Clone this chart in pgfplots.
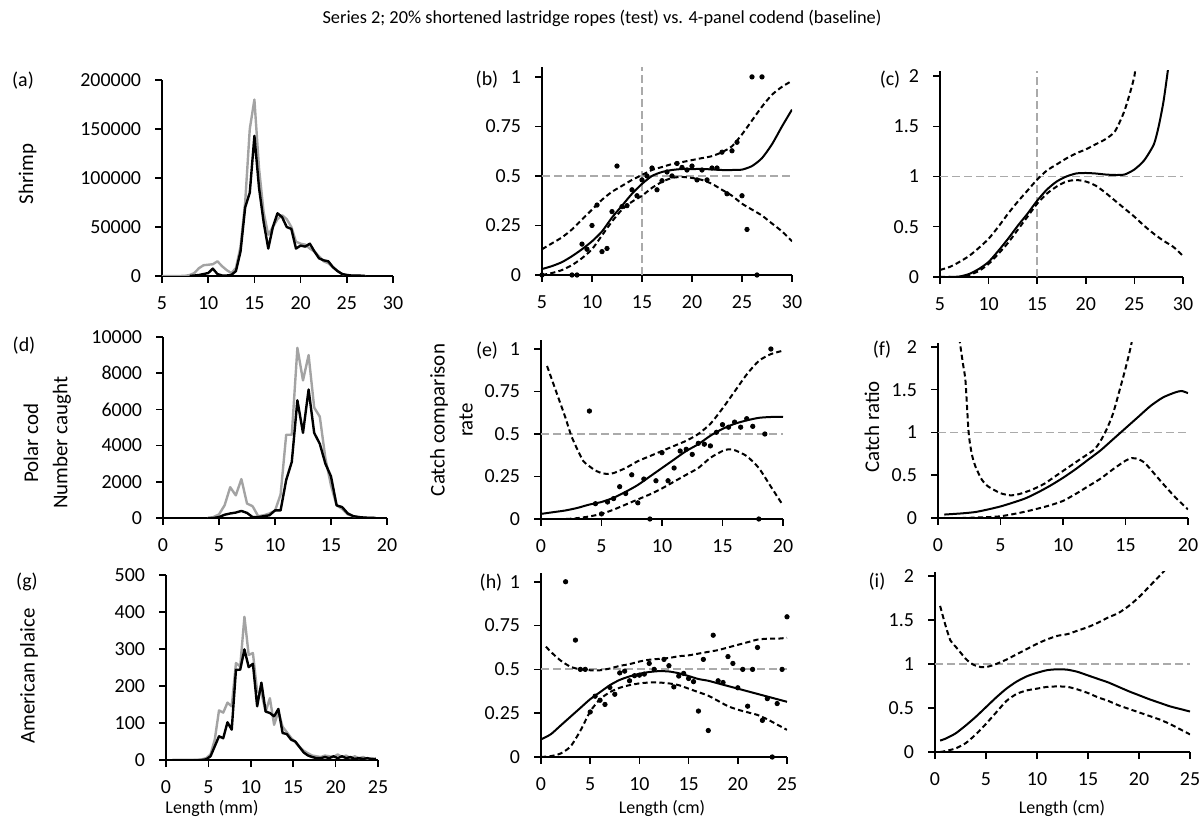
\documentclass[border=0pt]{standalone}
\usepackage{fontspec}
\setmainfont{Carlito}
\usepackage{pgfplots}
\pgfplotsset{compat=1.18}
\definecolor{gline}{RGB}{163,163,163}
\definecolor{gref}{RGB}{170,170,170}
\newcommand\tk{\fontsize{10}{12}\selectfont}
\newcommand\lb{\fontsize{10.5}{14}\selectfont}

\pgfplotsset{
  panel/.style={
    scale only axis, anchor=south west,
    axis x line*=bottom, axis y line*=left,
    axis line style={black, line width=0.75bp, -},
    every tick/.style={black, line width=0.75bp},
    tick align=outside, major tick length=3.5bp,
    ticklabel style={font=\tk},
    yticklabel style={xshift=-3.5bp},
    xticklabel style={yshift=-3.5bp},
    /pgf/number format/fixed,
    /pgf/number format/assume math mode=true,
    /pgf/number format/1000 sep={},
    scaled ticks=false,
  },
  fit/.style={black, line width=1bp, smooth, tension=0.4},
  ci/.style={fit, dash pattern=on 2.6bp off 1.6bp},
  ref/.style={gref, line width=0.9bp, dash pattern=on 4bp off 2bp},
  pts/.style={only marks, mark=*, mark size=1.1bp, black},
  hist/.style={line width=1.2bp, line join=round},
}

\begin{document}
\begin{tikzpicture}
\path[use as bounding box] (0,0) rectangle (602bp,418bp);

% ---------- row 1: shrimp ----------
\begin{axis}[panel, at={(81bp,280bp)}, width=115.5bp, height=98bp,
  xmin=5, xmax=30, ymin=0, ymax=200000,
  xtick={5,10,...,30}, ytick={0,50000,...,200000}]
\addplot[hist, gline] coordinates {
 (5,0) (5.5,0) (6,0) (6.5,0) (7,0) (7.5,200) (8,1000) (8.5,3000) (9,8000) (9.5,11000)
 (10,11500) (10.5,12000) (11,15000) (11.5,10000) (12,6000) (12.5,3000) (13,8000)
 (13.5,30000) (14,75000) (14.5,150000) (15,180000) (15.5,110000) (16,65000) (16.5,42000)
 (17,50000) (17.5,58000) (18,62000) (18.5,58000) (19,50000) (19.5,35000) (20,33000)
 (20.5,32000) (21,28000) (21.5,25000) (22,20000) (22.5,15000) (23,13000) (23.5,9000)
 (24,5000) (24.5,2000) (25,1000) (25.5,500) (26,500) (26.5,300) (27,0)};
\addplot[hist, black] coordinates {
 (8,0) (8.5,500) (9,1000) (9.5,2000) (10,3000) (10.5,7500) (11,2000) (11.5,500) (12,500)
 (12.5,1000) (13,5000) (13.5,25000) (14,70000) (14.5,85000) (15,143000) (15.5,90000)
 (16,55000) (16.5,28000) (17,50000) (17.5,64000) (18,60000) (18.5,50000) (19,48000)
 (19.5,28000) (20,31000) (20.5,30000) (21,33000) (21.5,25000) (22,18000) (22.5,16000)
 (23,15000) (23.5,9000) (24,5000) (24.5,2000) (25,1000) (25.5,500) (26,500) (26.5,300) (27,0)};
\end{axis}

\begin{axis}[panel, at={(271bp,280.5bp)}, width=125bp, height=104bp,
  xmin=5, xmax=30, ymin=0, ymax=1.05,
  xtick={5,10,...,30}, ytick={0,0.25,0.5,0.75,1}]
\addplot[ref] coordinates {(5,0.5) (30,0.5)};
\addplot[ref] coordinates {(15,0) (15,1.05)};
\addplot[fit] coordinates {
 (5,0.03) (6,0.045) (7,0.065) (8,0.095) (9,0.13) (10,0.17) (11,0.22) (12,0.29) (13,0.35)
 (14,0.41) (15,0.46) (16,0.50) (17,0.52) (18,0.53) (19,0.535) (20,0.535) (21,0.535)
 (22,0.533) (23,0.53) (24,0.53) (25,0.532) (26,0.55) (27,0.59) (28,0.66) (29,0.75) (30,0.835)};
\addplot[ci] coordinates {
 (5,0.13) (6,0.16) (7,0.19) (8,0.23) (9,0.28) (10,0.33) (11,0.38) (12,0.42) (13,0.45)
 (14,0.48) (15,0.505) (16,0.53) (17,0.545) (18,0.56) (19,0.57) (20,0.58) (21,0.59)
 (22,0.60) (23,0.62) (24,0.65) (25,0.71) (26,0.78) (27,0.85) (28,0.91) (29,0.95) (30,0.98)};
\addplot[ci] coordinates {
 (5,0.0) (6,0.01) (7,0.025) (8,0.05) (9,0.085) (10,0.13) (11,0.2) (12,0.27) (13,0.33)
 (14,0.37) (15,0.40) (16,0.44) (17,0.47) (18,0.49) (19,0.495) (20,0.49) (21,0.48)
 (22,0.46) (23,0.43) (24,0.40) (25,0.36) (26,0.33) (27,0.30) (28,0.26) (29,0.22) (30,0.17)};
\addplot[pts] coordinates {
 (5,0) (8,0) (8.5,0) (9,0.156) (9.5,0.13) (10,0.25) (10.5,0.353) (11,0.118) (11.5,0.134)
 (12,0.32) (12.5,0.55) (13,0.345) (13.5,0.35) (14,0.43) (14.5,0.40) (15,0.48) (15.5,0.50)
 (16,0.54) (16.5,0.43) (17,0.476) (17.5,0.52) (18,0.50) (18.5,0.563) (19,0.543) (19.5,0.53)
 (20,0.55) (20.5,0.48) (21,0.53) (21.5,0.48) (22,0.54) (22.5,0.54) (23,0.62) (23.5,0.41)
 (24,0.627) (24.5,0.67) (25,0.40) (25.5,0.23) (26,1.0) (26.5,0) (27,1.0)};
\end{axis}

\begin{axis}[panel, at={(470bp,279.5bp)}, width=121.5bp, height=103bp,
  xmin=5, xmax=30, ymin=0, ymax=2.05,
  xtick={5,10,...,30}, ytick={0,0.5,...,2}]
\addplot[ref] coordinates {(5,1) (30,1)};
\addplot[ref] coordinates {(15,0) (15,2.05)};
\addplot[fit] coordinates {
 (5,0.0) (6,0.0) (7,0.005) (8,0.03) (9,0.08) (10,0.15) (11,0.26) (12,0.38) (13,0.51)
 (14,0.63) (15,0.76) (16,0.87) (17,0.95) (18,1.0) (19,1.03) (20,1.035) (21,1.03)
 (22,1.02) (23,1.015) (24,1.02) (25,1.07) (26,1.16) (27,1.32) (27.5,1.5) (28,1.75) (28.5,2.1) (28.7,2.3)};
\addplot[ci] coordinates {
 (5,0.07) (6,0.1) (7,0.15) (8,0.21) (9,0.29) (10,0.38) (11,0.5) (12,0.63) (13,0.75)
 (14,0.86) (15,0.97) (16,1.06) (17,1.12) (18,1.18) (19,1.23) (20,1.27) (21,1.32)
 (22,1.37) (23,1.45) (24,1.66) (25,2.0) (25.3,2.3)};
\addplot[ci] coordinates {
 (5,0.0) (6,0.0) (7,0.0) (8,0.02) (9,0.06) (10,0.13) (11,0.23) (12,0.34) (13,0.47)
 (14,0.6) (15,0.73) (16,0.83) (17,0.9) (18,0.95) (19,0.965) (20,0.95) (21,0.91)
 (22,0.84) (23,0.76) (24,0.68) (25,0.6) (26,0.51) (27,0.43) (28,0.36) (29,0.3) (30,0.21)};
\end{axis}

% ---------- row 2: polar cod ----------
\begin{axis}[panel, at={(81.5bp,159bp)}, width=112bp, height=90.5bp,
  xmin=0, xmax=20, ymin=0, ymax=10000,
  xtick={0,5,...,20}, ytick={0,2000,...,10000}]
\addplot[hist, gline] coordinates {
 (4,0) (4.5,50) (5,200) (5.5,700) (6,1700) (6.5,1250) (7,2150) (7.5,800) (8,650)
 (8.5,100) (9,150) (9.5,250) (10,400) (10.5,1300) (11,4600) (11.5,4600) (12,9400)
 (12.5,7600) (13,9000) (13.5,6100) (14,5600) (14.5,3300) (15,1800) (15.5,700) (16,500)
 (16.5,200) (17,100) (17.5,50) (18,20) (18.5,10) (19,0)};
\addplot[hist, black] coordinates {
 (4,0) (4.5,0) (5,50) (5.5,180) (6,250) (6.5,300) (7,390) (7.5,280) (8,50) (8.5,50)
 (9,100) (9.5,150) (10,420) (10.5,420) (11,2100) (11.5,3100) (12,6500) (12.5,4700)
 (13,7100) (13.5,4700) (14,4100) (14.5,3000) (15,2300) (15.5,700) (16,600) (16.5,250)
 (17,100) (17.5,50) (18,20) (18.5,10) (19,0)};
\end{axis}

\begin{axis}[panel, at={(270.5bp,158.5bp)}, width=121bp, height=89.25bp,
  xmin=0, xmax=20, ymin=0, ymax=1.05,
  xtick={0,5,...,20}, ytick={0,0.25,0.5,0.75,1}]
\addplot[ref] coordinates {(0,0.5) (20,0.5)};
\addplot[fit] coordinates {
 (0,0.03) (1,0.04) (2,0.05) (3,0.065) (4,0.085) (5,0.1) (6,0.125) (7,0.16) (8,0.2)
 (9,0.25) (10,0.3) (11,0.35) (12,0.4) (13,0.44) (14,0.49) (15,0.53) (16,0.56) (17,0.58)
 (18,0.595) (19,0.6) (20,0.6)};
\addplot[ci] coordinates {
 (0.5,0.9) (1,0.8) (1.5,0.7) (2,0.6) (2.5,0.49) (3,0.41) (3.5,0.34) (4,0.31) (4.5,0.285)
 (5,0.27) (5.5,0.265) (6,0.27) (7,0.3) (8,0.34) (9,0.37) (10,0.4) (11,0.43) (12,0.46)
 (13,0.5) (14,0.56) (15,0.65) (16,0.75) (17,0.85) (18,0.93) (19,0.97) (20,0.99)};
\addplot[ci] coordinates {
 (0,0.0) (2,0.0) (3,0.005) (4,0.015) (5,0.03) (6,0.055) (7,0.085) (8,0.115) (9,0.145)
 (10,0.18) (11,0.22) (12,0.26) (13,0.3) (14,0.36) (15,0.4) (15.5,0.41) (16,0.405)
 (17,0.37) (18,0.3) (19,0.19) (20,0.08)};
\addplot[pts] coordinates {
 (4,0.635) (4.5,0.09) (5,0.03) (5.5,0.1) (6,0.12) (6.5,0.19) (7,0.15) (7.5,0.26) (8,0.095)
 (8.5,0.235) (9,0) (9.5,0.225) (10,0.39) (10.5,0.225) (11,0.3) (11.5,0.4) (12,0.41)
 (12.5,0.38) (13,0.445) (13.5,0.44) (14,0.43) (14.5,0.51) (15,0.555) (15.5,0.54) (16,0.57)
 (16.5,0.54) (17,0.59) (17.5,0.545) (18,0) (18.5,0.5) (19,1.0)};
\end{axis}

\begin{axis}[panel, at={(469bp,159bp)}, width=125bp, height=87.65bp,
  xmin=0, xmax=20, ymin=0, ymax=2.05,
  xtick={0,5,...,20}, ytick={0,0.5,...,2}]
\addplot[ref] coordinates {(0,1) (20,1)};
\addplot[fit] coordinates {
 (0.5,0.04) (1,0.045) (2,0.055) (3,0.07) (4,0.1) (5,0.135) (6,0.18) (7,0.23) (8,0.3)
 (9,0.38) (10,0.47) (11,0.57) (12,0.68) (13,0.79) (14,0.92) (15,1.05) (16,1.18) (17,1.31)
 (18,1.41) (19,1.47) (19.5,1.485) (20,1.46)};
\addplot[ci, smooth=false] coordinates {
 (1.65,2.3) (1.75,2.06) (2,1.8) (2.2,1.6) (2.45,1.0) (2.7,0.75) (3,0.6) (3.5,0.45) (4,0.37)
 (5,0.29) (5.8,0.265) (6.5,0.28) (7.5,0.33) (8.5,0.4) (9.5,0.5) (10.5,0.6) (11.5,0.7)
 (12.5,0.8) (13,0.9) (13.5,1.04) (14,1.22) (14.5,1.48) (15,1.75) (15.5,2.06) (15.6,2.3)};
\addplot[ci] coordinates {
 (0.5,0.0) (2,0.0) (3,0.005) (4,0.01) (5,0.02) (6,0.045) (7,0.075) (8,0.11) (9,0.15)
 (10,0.2) (11,0.28) (12,0.37) (13,0.46) (14,0.57) (15,0.67) (15.5,0.7) (16,0.69)
 (16.5,0.65) (17,0.57) (18,0.4) (19,0.24) (20,0.1)};
\end{axis}

% ---------- row 3: American plaice ----------
\begin{axis}[panel, at={(83bp,38bp)}, width=106bp, height=92.5bp,
  xmin=0, xmax=25, ymin=0, ymax=500,
  xtick={0,5,...,25}, ytick={0,100,...,500}]
\addplot[hist, gline] coordinates {
 (3.25,0) (3.75,0) (4.25,2) (4.75,5) (5.25,15) (5.75,55) (6.25,134) (6.75,128) (7.25,155)
 (7.75,145) (8.25,262) (8.75,253) (9.25,387) (9.75,284) (10.25,289) (10.75,185)
 (11.25,181) (11.75,131) (12.25,167) (12.75,95) (13.25,131) (13.75,90) (14.25,75)
 (14.75,60) (15.25,48) (15.75,35) (16.25,25) (16.75,18) (17.25,12) (17.75,10) (18.25,8)
 (18.75,12) (19.25,10) (19.75,8) (20.25,15) (20.75,8) (21.25,12) (21.75,5) (22.25,10)
 (22.75,5) (23.25,8) (23.75,3) (24.25,5) (24.75,2)};
\addplot[hist, black] coordinates {
 (0.75,0) (1.5,0) (2.5,0) (3.25,0) (4.25,0) (4.75,2) (5.25,10) (5.75,37) (6.25,64) (6.75,59)
 (7.25,102) (7.75,82) (8.25,244) (8.75,244) (9.25,299) (9.75,251) (10.25,260) (10.75,145)
 (11.25,209) (11.75,131) (12.25,127) (12.75,118) (13.25,138) (13.75,73) (14.25,70)
 (14.75,55) (15.25,50) (15.75,35) (16.25,20) (16.75,12) (17.25,8) (17.75,5) (18.25,5)
 (18.75,8) (19.25,5) (19.75,10) (20.25,5) (20.75,10) (21.25,5) (21.75,8) (22.25,3)
 (22.75,5) (23.25,3) (23.75,5) (24.25,2) (24.75,3)};
\end{axis}

\begin{axis}[panel, at={(270.5bp,39.5bp)}, width=123bp, height=92bp,
  xmin=0, xmax=25, ymin=0, ymax=1.05,
  xtick={0,5,...,25}, ytick={0,0.25,0.5,0.75,1}]
\addplot[ref] coordinates {(0,0.5) (25,0.5)};
\addplot[fit] coordinates {
 (0,0.1) (1,0.13) (2,0.18) (3,0.23) (4,0.28) (5,0.33) (6,0.37) (7,0.41) (8,0.44) (9,0.46)
 (10,0.475) (11,0.485) (12,0.49) (13,0.488) (14,0.478) (15,0.462) (16,0.445) (17,0.435)
 (18,0.42) (19,0.405) (20,0.39) (21,0.375) (22,0.36) (23,0.345) (24,0.33) (25,0.315)};
\addplot[ci] coordinates {
 (0.5,0.63) (1,0.6) (2,0.55) (3,0.515) (4,0.5) (5,0.495) (6,0.495) (7,0.505) (8,0.52)
 (9,0.53) (10,0.545) (11,0.555) (12,0.56) (13,0.565) (14,0.575) (15,0.58) (16,0.59)
 (17,0.6) (18,0.61) (19,0.625) (20,0.64) (21,0.655) (22,0.67) (23,0.675) (24,0.675) (25,0.68)};
\addplot[ci] coordinates {
 (0,0.0) (1,0.005) (2,0.02) (3,0.06) (4,0.15) (5,0.26) (6,0.33) (7,0.37) (8,0.395)
 (9,0.41) (10,0.42) (11,0.425) (12,0.425) (13,0.42) (14,0.41) (15,0.39) (16,0.37)
 (17,0.35) (18,0.32) (19,0.29) (20,0.27) (21,0.255) (22,0.24) (23,0.215) (24,0.185) (25,0.155)};
\addplot[pts] coordinates {
 (2.5,1.0) (3.5,0.667) (4,0.5) (4.5,0.5) (5,0.257) (5.5,0.347) (6,0.324) (6.5,0.3) (7,0.397)
 (7.5,0.358) (8,0.48) (8.5,0.49) (9,0.435) (9.5,0.464) (10,0.467) (10.5,0.473) (11,0.534)
 (11.5,0.5) (12.5,0.557) (13,0.521) (13.5,0.4) (14,0.462) (14.5,0.477) (15,0.448)
 (15.5,0.43) (16,0.262) (16.5,0.557) (17,0.151) (17.5,0.695) (18,0.435) (18.5,0.425)
 (19,0.573) (19.5,0.534) (20,0.395) (20.5,0.5) (21,0.29) (21.5,0.5) (22,0.625) (22.5,0.209)
 (23,0.333) (23.5,0) (24,0.305) (24.5,0.5) (25,0.8)};
\end{axis}

\begin{axis}[panel, at={(467.5bp,42bp)}, width=127.5bp, height=90.2bp,
  xmin=0, xmax=25, ymin=0, ymax=2.05,
  xtick={0,5,...,25}, ytick={0,0.5,...,2}]
\addplot[ref] coordinates {(0,1) (25,1)};
\addplot[fit] coordinates {
 (0.5,0.13) (1,0.15) (2,0.21) (3,0.3) (4,0.4) (5,0.51) (6,0.62) (7,0.72) (8,0.8) (9,0.86)
 (10,0.9) (11,0.93) (12,0.94) (13,0.935) (14,0.91) (15,0.87) (16,0.83) (17,0.79) (18,0.74)
 (19,0.69) (20,0.645) (21,0.6) (22,0.56) (23,0.52) (24,0.49) (25,0.46)};
\addplot[ci] coordinates {
 (0.5,1.66) (1,1.45) (1.5,1.27) (2,1.2) (2.5,1.13) (3,1.06) (3.5,1.01) (4,0.98) (4.5,0.965)
 (5,0.965) (5.5,0.98) (6,1.0) (7,1.05) (8,1.11) (9,1.17) (10,1.23) (11,1.28) (12,1.32)
 (13,1.34) (14,1.38) (15,1.42) (16,1.47) (17,1.53) (18,1.58) (19,1.66) (20,1.76) (21,1.88)
 (22,2.0) (23,2.12) (24,2.2)};
\addplot[ci] coordinates {
 (0.5,0.0) (1,0.01) (2,0.04) (3,0.1) (4,0.2) (5,0.32) (6,0.45) (7,0.58) (8,0.66) (9,0.7)
 (10,0.72) (11,0.74) (12,0.745) (13,0.74) (14,0.71) (15,0.67) (16,0.62) (17,0.58) (18,0.53)
 (19,0.49) (20,0.45) (21,0.41) (22,0.37) (23,0.32) (24,0.26) (25,0.2)};
\end{axis}

% ---------- texts ----------
\node[font=\fontsize{9.2}{11}\selectfont] at (301bp,409bp)
  {Series 2; 20\% shortened lastridge ropes (test) vs. 4-panel codend (baseline)};
\begin{scope}[every node/.style={font=\tk}]
\node at (11.5bp,377.5bp) {(a)};
\node at (243.5bp,378bp) {(b)};
\node at (445bp,378bp) {(c)};
\node at (12bp,245bp) {(d)};
\node at (243.5bp,242.5bp) {(e)};
\node at (441bp,243bp) {(f)};
\node at (13.5bp,127bp) {(g)};
\node at (245.5bp,126.5bp) {(h)};
\node at (438.5bp,127bp) {(i)};
\node[rotate=90, font=\lb] at (13.75bp,331bp) {Shrimp};
\node[rotate=90, font=\lb] at (15.5bp,196.5bp) {Polar cod};
\node[rotate=90, font=\lb] at (31bp,196.5bp) {Number caught};
\node[rotate=90, font=\lb] at (14.5bp,80bp) {American plaice};
\node[rotate=90, align=center, font=\lb] at (225.75bp,208bp) {Catch comparison\\rate};
\node[rotate=90, font=\lb] at (436bp,204.5bp) {Catch ratio};
\node[font=\fontsize{9}{11}\selectfont] at (106bp,14bp) {Length (mm)};
\node[font=\fontsize{9}{11}\selectfont] at (331bp,14bp) {Length (cm)};
\node[font=\fontsize{9}{11}\selectfont] at (531bp,14bp) {Length (cm)};
\end{scope}
\end{tikzpicture}
\end{document}
